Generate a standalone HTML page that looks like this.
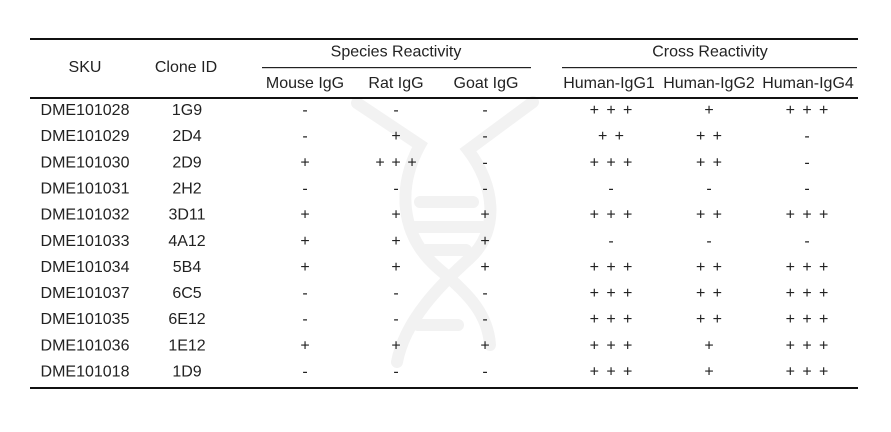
<!DOCTYPE html>
<html><head><meta charset="utf-8"><style>
html,body{margin:0;padding:0;background:#fff;}
svg{display:block;}
text{font-family:"Liberation Sans",Arial,sans-serif;font-size:16px;fill:#222;}
</style></head><body>
<svg width="891" height="432" viewBox="0 0 891 432" xmlns="http://www.w3.org/2000/svg">
<rect width="891" height="432" fill="#fff"/>
<!-- watermark -->
<g fill="none" stroke="#f2f2f2" stroke-width="12" stroke-linecap="round">
<path d="M357,103 L420,145 C398,185 398,235 440,270 C470,295 488,315 490,345"/>
<path d="M533,102 L468,150 C495,185 500,230 470,258 C440,285 405,320 397,362"/>
<path d="M420,202 H473 M410,227 H482 M426,250 H466 M418,325 H458"/>
</g>
<!-- rules -->
<rect x="30" y="38" width="828" height="2" fill="#111"/>
<rect x="262" y="67" width="269" height="1.2" fill="#222"/>
<rect x="562" y="67" width="295" height="1.2" fill="#222"/>
<rect x="30" y="97" width="828" height="2" fill="#111"/>
<rect x="30" y="387" width="828" height="2" fill="#111"/>
<!-- headers -->
<g text-anchor="middle">
<text x="85" y="72">SKU</text>
<text x="186" y="72">Clone ID</text>
<text x="396" y="56.5">Species Reactivity</text>
<text x="710" y="56.5">Cross Reactivity</text>
<text x="305" y="88">Mouse IgG</text>
<text x="396" y="88">Rat IgG</text>
<text x="486" y="88">Goat IgG</text>
<text x="609" y="88">Human-IgG1</text>
<text x="709" y="88">Human-IgG2</text>
<text x="808" y="88">Human-IgG4</text>

<!-- row 1 -->
<text x="85" y="115">DME101028</text><text x="187" y="115">1G9</text>
<text x="305" y="115">-</text><text x="396" y="115">-</text><text x="485" y="115">-</text>
<text x="594.3" y="115">+</text><text x="611" y="115">+</text><text x="627.7" y="115">+</text>
<text x="709" y="115">+</text>
<text x="790.3" y="115">+</text><text x="807" y="115">+</text><text x="823.7" y="115">+</text>

<!-- row 2 -->
<text x="85" y="141.2">DME101029</text><text x="187" y="141.2">2D4</text>
<text x="305" y="141.2">-</text><text x="396" y="141.2">+</text><text x="485" y="141.2">-</text>
<text x="602.7" y="141.2">+</text><text x="619.3" y="141.2">+</text>
<text x="700.7" y="141.2">+</text><text x="717.3" y="141.2">+</text>
<text x="807" y="141.2">-</text>

<!-- row 3 -->
<text x="85" y="167.3">DME101030</text><text x="187" y="167.3">2D9</text>
<text x="305" y="167.3">+</text>
<text x="380" y="167.3">+</text><text x="396" y="167.3">+</text><text x="412" y="167.3">+</text>
<text x="485" y="167.3">-</text>
<text x="594.3" y="167.3">+</text><text x="611" y="167.3">+</text><text x="627.7" y="167.3">+</text>
<text x="700.7" y="167.3">+</text><text x="717.3" y="167.3">+</text>
<text x="807" y="167.3">-</text>

<!-- row 4 -->
<text x="85" y="193.5">DME101031</text><text x="187" y="193.5">2H2</text>
<text x="305" y="193.5">-</text><text x="396" y="193.5">-</text><text x="485" y="193.5">-</text>
<text x="611" y="193.5">-</text><text x="709" y="193.5">-</text><text x="807" y="193.5">-</text>

<!-- row 5 -->
<text x="85" y="219.6">DME101032</text><text x="187" y="219.6">3D11</text>
<text x="305" y="219.6">+</text><text x="396" y="219.6">+</text><text x="485" y="219.6">+</text>
<text x="594.3" y="219.6">+</text><text x="611" y="219.6">+</text><text x="627.7" y="219.6">+</text>
<text x="700.7" y="219.6">+</text><text x="717.3" y="219.6">+</text>
<text x="790.3" y="219.6">+</text><text x="807" y="219.6">+</text><text x="823.7" y="219.6">+</text>

<!-- row 6 -->
<text x="85" y="245.8">DME101033</text><text x="187" y="245.8">4A12</text>
<text x="305" y="245.8">+</text><text x="396" y="245.8">+</text><text x="485" y="245.8">+</text>
<text x="611" y="245.8">-</text><text x="709" y="245.8">-</text><text x="807" y="245.8">-</text>

<!-- row 7 -->
<text x="85" y="271.9">DME101034</text><text x="187" y="271.9">5B4</text>
<text x="305" y="271.9">+</text><text x="396" y="271.9">+</text><text x="485" y="271.9">+</text>
<text x="594.3" y="271.9">+</text><text x="611" y="271.9">+</text><text x="627.7" y="271.9">+</text>
<text x="700.7" y="271.9">+</text><text x="717.3" y="271.9">+</text>
<text x="790.3" y="271.9">+</text><text x="807" y="271.9">+</text><text x="823.7" y="271.9">+</text>

<!-- row 8 -->
<text x="85" y="298.1">DME101037</text><text x="187" y="298.1">6C5</text>
<text x="305" y="298.1">-</text><text x="396" y="298.1">-</text><text x="485" y="298.1">-</text>
<text x="594.3" y="298.1">+</text><text x="611" y="298.1">+</text><text x="627.7" y="298.1">+</text>
<text x="700.7" y="298.1">+</text><text x="717.3" y="298.1">+</text>
<text x="790.3" y="298.1">+</text><text x="807" y="298.1">+</text><text x="823.7" y="298.1">+</text>

<!-- row 9 -->
<text x="85" y="324.2">DME101035</text><text x="187" y="324.2">6E12</text>
<text x="305" y="324.2">-</text><text x="396" y="324.2">-</text><text x="485" y="324.2">-</text>
<text x="594.3" y="324.2">+</text><text x="611" y="324.2">+</text><text x="627.7" y="324.2">+</text>
<text x="700.7" y="324.2">+</text><text x="717.3" y="324.2">+</text>
<text x="790.3" y="324.2">+</text><text x="807" y="324.2">+</text><text x="823.7" y="324.2">+</text>

<!-- row 10 -->
<text x="85" y="350.4">DME101036</text><text x="187" y="350.4">1E12</text>
<text x="305" y="350.4">+</text><text x="396" y="350.4">+</text><text x="485" y="350.4">+</text>
<text x="594.3" y="350.4">+</text><text x="611" y="350.4">+</text><text x="627.7" y="350.4">+</text>
<text x="709" y="350.4">+</text>
<text x="790.3" y="350.4">+</text><text x="807" y="350.4">+</text><text x="823.7" y="350.4">+</text>

<!-- row 11 -->
<text x="85" y="376.5">DME101018</text><text x="187" y="376.5">1D9</text>
<text x="305" y="376.5">-</text><text x="396" y="376.5">-</text><text x="485" y="376.5">-</text>
<text x="594.3" y="376.5">+</text><text x="611" y="376.5">+</text><text x="627.7" y="376.5">+</text>
<text x="709" y="376.5">+</text>
<text x="790.3" y="376.5">+</text><text x="807" y="376.5">+</text><text x="823.7" y="376.5">+</text>
</g>
</svg>
</body></html>
